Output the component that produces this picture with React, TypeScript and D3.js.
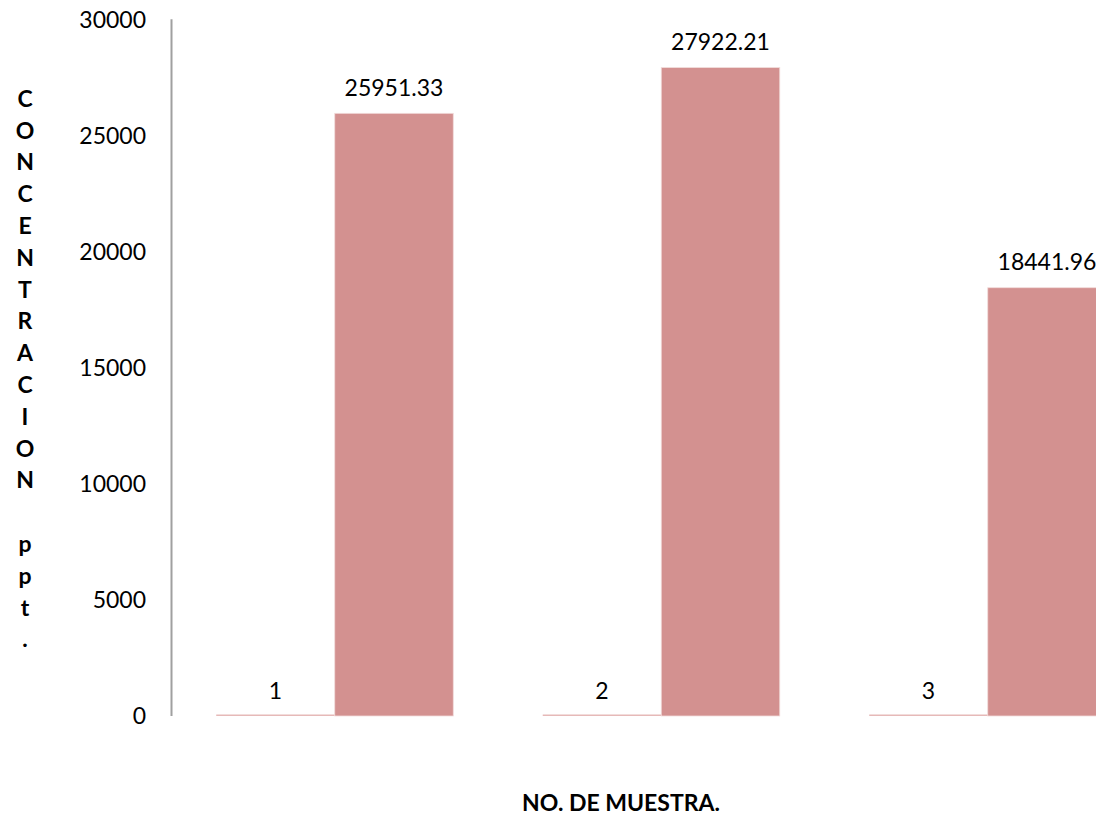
import React, { useEffect, useRef } from 'react';
import * as d3 from 'd3';

const categories = ['1', '2', '3'];
const seriesNames = ['Serie1', 'Serie2'];
const serie1 = [1, 2, 3];
const serie2 = [25951.33, 27922.21, 18441.96];
const serie1Labels = ['1', '2', '3'];
const serie2Labels = ['25951.33', '27922.21', '18441.96'];
const yTicks = [0, 5000, 10000, 15000, 20000, 25000, 30000];
const yTitle = 'CONCENTRACION ppt.';
const xTitle = 'NO. DE MUESTRA.';

const W = 1096;
const H = 816;

const App: React.FC = () => {
  const svgRef = useRef<SVGSVGElement>(null);

  useEffect(() => {
    document.body.style.margin = '0';
    if (!svgRef.current) return;
    const svg = d3.select(svgRef.current);
    svg.selectAll('*').remove();

    const font = 'Lato, "Open Sans", sans-serif';
    const left = 171.5;
    const top = 19.3;
    const bottom = 716;
    const right = 1151; // plot runs past the visible edge

    const y = d3.scaleLinear().domain([0, 30000]).range([bottom, top]);
    const x = d3.scaleBand<string>()
      .domain(categories)
      .range([left, right])
      .paddingInner(0.274)
      .paddingOuter(0.137);
    const xs = d3.scaleBand<string>()
      .domain(seriesNames)
      .range([0, x.bandwidth()]);

    const g = svg.append('g');

    // y tick labels (no tick marks, no gridlines)
    g.selectAll('text.ytick')
      .data(yTicks)
      .enter()
      .append('text')
      .attr('class', 'ytick')
      .attr('x', 146)
      .attr('y', d => y(d))
      .attr('dy', '0.36em')
      .attr('text-anchor', 'end')
      .attr('font-family', font)
      .attr('font-size', 23)
      .attr('fill', '#000')
      .text(d => String(d));

    // bars
    const rows = categories.map((c, i) => ({ c, s1: serie1[i], s2: serie2[i], l1: serie1Labels[i], l2: serie2Labels[i] }));

    g.selectAll('rect.s1')
      .data(rows)
      .enter()
      .append('rect')
      .attr('x', d => (x(d.c) || 0) + (xs('Serie1') || 0))
      .attr('y', d => Math.min(y(d.s1), bottom - 1.5))
      .attr('width', xs.bandwidth())
      .attr('height', d => Math.max(1.5, bottom - y(d.s1)))
      .attr('fill', '#e6b9b8');

    g.selectAll('rect.s2')
      .data(rows)
      .enter()
      .append('rect')
      .attr('x', d => (x(d.c) || 0) + (xs('Serie2') || 0))
      .attr('y', d => y(d.s2))
      .attr('width', xs.bandwidth())
      .attr('height', d => bottom - y(d.s2))
      .attr('fill', '#d39190')
      .attr('stroke', '#f2dcdb')
      .attr('stroke-width', 0.8);

    // data labels
    g.selectAll('text.l1')
      .data(rows)
      .enter()
      .append('text')
      .attr('x', d => (x(d.c) || 0) + (xs('Serie1') || 0) + xs.bandwidth() / 2)
      .attr('y', d => y(d.s1) - 25)
      .attr('dy', '0.36em')
      .attr('text-anchor', 'middle')
      .attr('font-family', font)
      .attr('font-size', 23)
      .text(d => d.l1);

    g.selectAll('text.l2')
      .data(rows)
      .enter()
      .append('text')
      .attr('x', d => (x(d.c) || 0) + (xs('Serie2') || 0) + xs.bandwidth() / 2)
      .attr('y', d => y(d.s2) - 26)
      .attr('dy', '0.36em')
      .attr('text-anchor', 'middle')
      .attr('font-family', font)
      .attr('font-size', 23)
      .text(d => d.l2);

    // y axis line
    g.append('line')
      .attr('x1', left)
      .attr('x2', left)
      .attr('y1', top)
      .attr('y2', bottom)
      .attr('stroke', '#a0a0a0')
      .attr('stroke-width', 2);

    // stacked y title
    const letters = yTitle.split('');
    g.append('g')
      .selectAll('text')
      .data(letters)
      .enter()
      .append('text')
      .attr('x', 25)
      .attr('y', (_, i) => 98.5 + i * 31.8)
      .attr('dy', '0.36em')
      .attr('text-anchor', 'middle')
      .attr('font-family', font)
      .attr('font-weight', 'bold')
      .attr('font-size', 23)
      .text(d => d);

    // x title
    g.append('text')
      .attr('x', 621)
      .attr('y', 803)
      .attr('dy', '0.36em')
      .attr('text-anchor', 'middle')
      .attr('font-family', font)
      .attr('font-weight', 'bold')
      .attr('font-size', 23)
      .text(xTitle);
  }, []);

  return (
    <svg ref={svgRef} width={W} height={H} style={{ display: 'block', background: '#fff' }} />
  );
};

export default App;
